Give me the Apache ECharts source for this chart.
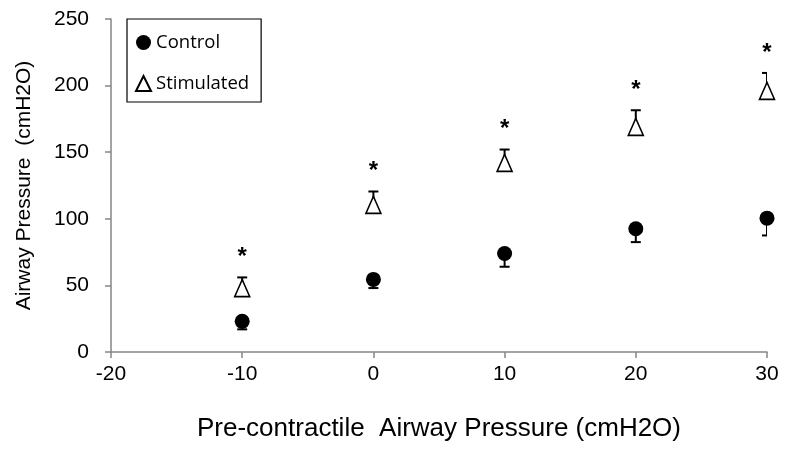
<!DOCTYPE html>
<html>
<head>
<meta charset="utf-8">
<script src="https://cdn.jsdelivr.net/npm/echarts@6/dist/echarts.min.js"></script>
<style>
  html, body { margin: 0; padding: 0; background: #fff; }
  #chart { width: 788px; height: 449px; }
</style>
</head>
<body>
<div id="chart"></div>
<script>
// values
const pressures = [-10, 0, 10, 20, 30];
const control = [23, 54.5, 74, 92.5, 100.5];
const controlErr = [6, 6.5, 10, 10, 13];     // drawn downward only
const stimulated = [48, 110.5, 142, 169, 196];
const stimulatedErr = [8, 10, 10, 12.5, 13.5]; // drawn upward only
const xTicks = [-20, -10, 0, 10, 20, 30];
const yTicks = [0, 50, 100, 150, 200, 250];

const chart = echarts.init(document.getElementById('chart'));

// error bar with a cap
function errorBar(dir) {
  return function (params, api) {
    const x = api.value(0);
    const v = api.value(1);
    const e = api.value(2);
    const p0 = api.coord([x, v]);
    const p1 = api.coord([x, dir > 0 ? v + e : v - e]);
    const half = 5;
    const style = { stroke: '#000', lineWidth: 2 };
    return {
      type: 'group',
      children: [
        { type: 'line', shape: { x1: p0[0], y1: p0[1], x2: p1[0], y2: p1[1] }, style: style },
        { type: 'line', shape: { x1: p1[0] - half, y1: p1[1], x2: p1[0] + half, y2: p1[1] }, style: style }
      ]
    };
  };
}

// asterisk above the top of the stimulated error bar
function star(params, api) {
  const p = api.coord([api.value(0), api.value(1) + api.value(2)]);
  return {
    type: 'text',
    style: {
      text: '*', x: p[0], y: p[1] - 20,
      fill: '#000', font: 'bold 24px "Liberation Sans", Arial, sans-serif',
      align: 'center', verticalAlign: 'middle'
    }
  };
}

const font = '"Liberation Sans", Arial, sans-serif';

const option = {
  animation: false,
  backgroundColor: '#fff',
  grid: { left: 111, right: 21, top: 19, bottom: 97 },
  legend: {
    orient: 'vertical',
    left: 127,
    top: 19,
    padding: [14, 12, 9, 8],
    itemGap: 22,
    itemWidth: 15,
    itemHeight: 15,
    borderColor: '#000',
    borderWidth: 1.2,
    textStyle: { fontFamily: '"Open Sans", Lato, sans-serif', fontSize: 18.5, color: '#000' },
    data: ['Control', 'Stimulated']
  },
  xAxis: {
    type: 'value',
    min: -20, max: 30, interval: 10,
    name: 'Pre-contractile  Airway Pressure (cmH2O)',
    nameLocation: 'middle',
    nameGap: 64,
    nameTextStyle: { fontFamily: font, fontSize: 26, color: '#000' },
    axisLine: { onZero: false, lineStyle: { color: '#868686', width: 1.5 } },
    axisTick: { show: true, length: 6, lineStyle: { color: '#868686', width: 1.5 } },
    axisLabel: { margin: 12, color: '#000', fontSize: 21, fontFamily: font, customValues: xTicks },
    splitLine: { show: false }
  },
  yAxis: {
    type: 'value',
    min: 0, max: 250, interval: 50,
    name: 'Airway Pressure  (cmH2O)',
    nameLocation: 'middle',
    nameGap: 76,
    nameTextStyle: { fontFamily: font, fontSize: 21, color: '#000' },
    axisLine: { show: true, onZero: false, lineStyle: { color: '#868686', width: 1.5 } },
    axisTick: { show: true, length: 6, lineStyle: { color: '#868686', width: 1.5 } },
    axisLabel: { margin: 22, color: '#000', fontSize: 21, fontFamily: font, customValues: yTicks },
    splitLine: { show: false }
  },
  series: [
    {
      type: 'custom',
      name: 'ctrlErr',
      clip: true,
      z: 1,
      renderItem: errorBar(-1),
      data: pressures.map((p, i) => [p, control[i], controlErr[i]])
    },
    {
      type: 'custom',
      name: 'stimErr',
      clip: true,
      z: 1,
      renderItem: errorBar(1),
      data: pressures.map((p, i) => [p, stimulated[i], stimulatedErr[i]])
    },
    {
      type: 'custom',
      name: 'stars',
      clip: false,
      z: 2,
      renderItem: star,
      data: pressures.map((p, i) => [p, stimulated[i], stimulatedErr[i]])
    },
    {
      type: 'scatter',
      name: 'Control',
      z: 3,
      symbol: 'circle',
      symbolSize: 15,
      itemStyle: { color: '#000', opacity: 1 },
      data: pressures.map((p, i) => [p, control[i]])
    },
    {
      type: 'scatter',
      name: 'Stimulated',
      z: 3,
      symbol: 'triangle',
      symbolSize: [15, 17],
      itemStyle: { color: '#fff', borderColor: '#000', borderWidth: 1.6, opacity: 1 },
      data: pressures.map((p, i) => [p, stimulated[i]])
    }
  ]
};

chart.setOption(option);
</script>
</body>
</html>
